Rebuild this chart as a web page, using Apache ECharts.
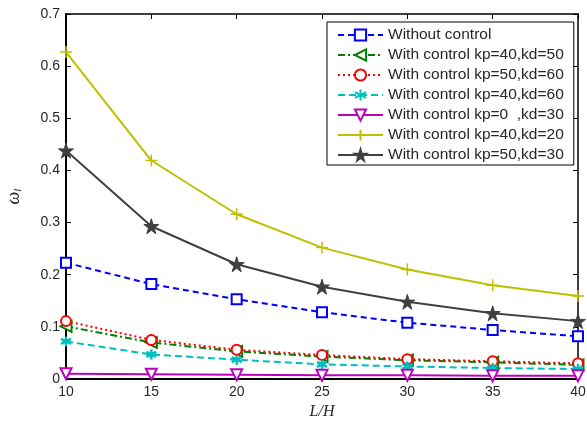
<!DOCTYPE html>
<html>
<head>
<meta charset="utf-8">
<script src="https://cdn.jsdelivr.net/npm/echarts@6/dist/echarts.min.js"></script>
<style>
  html, body { margin: 0; padding: 0; background: #fff; }
  #chart { width: 587px; height: 421px; }
</style>
</head>
<body>
<div id="chart"></div>
<script>
// L/H ratios on the horizontal axis
const ratios = [10, 15, 20, 25, 30, 35, 40];

// omega_l for each controller setting
const withoutControl = [0.223, 0.182, 0.153, 0.128, 0.108, 0.094, 0.082];
const kp40kd50 = [0.101, 0.070, 0.053, 0.043, 0.036, 0.032, 0.027];
const kp50kd60 = [0.111, 0.075, 0.056, 0.046, 0.038, 0.034, 0.030];
const kp40kd60 = [0.072, 0.047, 0.037, 0.028, 0.024, 0.021, 0.019];
const kp0kd30 = [0.010, 0.009, 0.008, 0.007, 0.007, 0.006, 0.006];
const kp40kd20 = [0.627, 0.419, 0.316, 0.252, 0.210, 0.180, 0.159];
const kp50kd30 = [0.438, 0.293, 0.220, 0.177, 0.148, 0.126, 0.111];

const seriesNames = [
  'Without control',
  'With control kp=40,kd=50',
  'With control kp=50,kd=60',
  'With control kp=40,kd=60',
  'With control kp=0  ,kd=30',
  'With control kp=40,kd=20',
  'With control kp=50,kd=30'
];

const yTicks = [0, 0.1, 0.2, 0.3, 0.4, 0.5, 0.6, 0.7];

const STAR = 'path://M50,0L61,35L98,35L68,57L79,91L50,70L21,91L32,57L2,35L39,35Z';
const PLUS = 'path://M5,0L5,10M0,5L10,5';
const ASTER = 'path://M5,0L5,10M0.7,2.5L9.3,7.5M0.7,7.5L9.3,2.5';

function pairs(vals) {
  return ratios.map((x, i) => [x, vals[i]]);
}

function makeSeries(name, vals, color, lineType, symbol, opts) {
  opts = opts || {};
  return {
    name: name,
    type: 'line',
    data: pairs(vals),
    symbol: symbol,
    symbolSize: opts.size || 10,
    symbolRotate: opts.rotate || 0,
    showAllSymbol: true,
    lineStyle: { color: color, width: 2, type: lineType },
    itemStyle: {
      color: opts.filled ? color : '#fff',
      borderColor: color,
      borderWidth: opts.bw || 2,
      opacity: 1
    },
    emphasis: { disabled: true },
    z: opts.z || 2
  };
}

const chart = echarts.init(document.getElementById('chart'), null, { renderer: 'canvas' });

const labelStyle = {
  color: '#262626',
  fontFamily: 'Liberation Sans, Arial, sans-serif',
  fontSize: 14
};

chart.setOption({
  animation: false,
  backgroundColor: '#fff',
  grid: {
    left: 66, right: 9, top: 14, bottom: 42,
    containLabel: false,
    outerBoundsMode: 'none'
  },
  legend: {
    orient: 'vertical',
    left: 327,
    top: 22,
    padding: [5, 10, 2, 10],
    itemGap: 4,
    itemWidth: 45,
    itemHeight: 14,
    backgroundColor: '#fff',
    borderColor: '#000',
    borderWidth: 1,
    borderRadius: 0,
    selectedMode: false,
    textStyle: {
      color: '#262626',
      fontFamily: 'Liberation Sans, Arial, sans-serif',
      fontSize: 15.5,
      lineHeight: 16
    },
    data: seriesNames
  },
  xAxis: [
    {
      type: 'value',
      min: 10, max: 40, interval: 5,
      name: 'L/H',
      nameLocation: 'middle',
      nameGap: 25,
      nameTextStyle: {
        fontFamily: 'Liberation Serif, Times New Roman, serif',
        fontStyle: 'italic',
        fontSize: 16,
        color: '#262626'
      },
      axisLine: { show: true, onZero: false, lineStyle: { color: '#000', width: 2 } },
      axisTick: { show: true, inside: true, length: 5, lineStyle: { color: '#000' } },
      axisLabel: Object.assign({ margin: 6 }, labelStyle),
      splitLine: { show: false }
    },
    {
      type: 'value',
      position: 'top',
      min: 10, max: 40, interval: 5,
      axisLine: { show: true, onZero: false, lineStyle: { color: '#000', width: 1.5 } },
      axisTick: { show: true, inside: true, length: 5, lineStyle: { color: '#000' } },
      axisLabel: { show: false },
      splitLine: { show: false }
    }
  ],
  yAxis: [
    {
      type: 'value',
      min: 0, max: 0.7, interval: 0.1,
      name: '{w|ω}{s|l}',
      nameLocation: 'middle',
      nameGap: 42,
      nameRotate: 90,
      nameTextStyle: {
        rich: {
          w: {
            fontFamily: 'Liberation Serif, Times New Roman, serif',
            fontStyle: 'italic',
            fontSize: 18,
            color: '#262626'
          },
          s: {
            fontFamily: 'Liberation Serif, Times New Roman, serif',
            fontStyle: 'italic',
            fontSize: 11,
            color: '#262626',
            padding: [8, 0, 0, 0]
          }
        }
      },
      axisLine: { show: true, onZero: false, lineStyle: { color: '#000', width: 2 } },
      axisTick: { show: true, inside: true, length: 5, lineStyle: { color: '#000' } },
      axisLabel: Object.assign({
        margin: 6,
        formatter: function (v) {
          const t = yTicks.find(k => Math.abs(k - v) < 1e-9);
          return t === undefined ? '' : String(t);
        }
      }, labelStyle),
      splitLine: { show: false }
    },
    {
      type: 'value',
      position: 'right',
      min: 0, max: 0.7, interval: 0.1,
      axisLine: { show: true, onZero: false, lineStyle: { color: '#000', width: 1.5 } },
      axisTick: { show: true, inside: true, length: 5, lineStyle: { color: '#000' } },
      axisLabel: { show: false },
      splitLine: { show: false }
    }
  ],
  series: [
    makeSeries(seriesNames[0], withoutControl, '#0000ff', [6, 4], 'rect', { size: 10 }),
    makeSeries(seriesNames[1], kp40kd50, '#008000', [7, 3, 2, 3], 'triangle', { size: 11, rotate: 90 }),
    makeSeries(seriesNames[2], kp50kd60, '#ff0000', [2, 3], 'circle', { size: 10 }),
    makeSeries(seriesNames[3], kp40kd60, '#00bfbf', [7, 4], ASTER, { size: 10, filled: true, bw: 2.5 }),
    makeSeries(seriesNames[4], kp0kd30, '#bf00bf', 'solid', 'triangle', { size: 11, rotate: 180 }),
    makeSeries(seriesNames[5], kp40kd20, '#bfbf00', 'solid', PLUS, { size: 12, filled: true, bw: 1.5 }),
    makeSeries(seriesNames[6], kp50kd30, '#404040', 'solid', STAR, { size: 15, filled: true, bw: 1 })
  ]
});
</script>
</body>
</html>
